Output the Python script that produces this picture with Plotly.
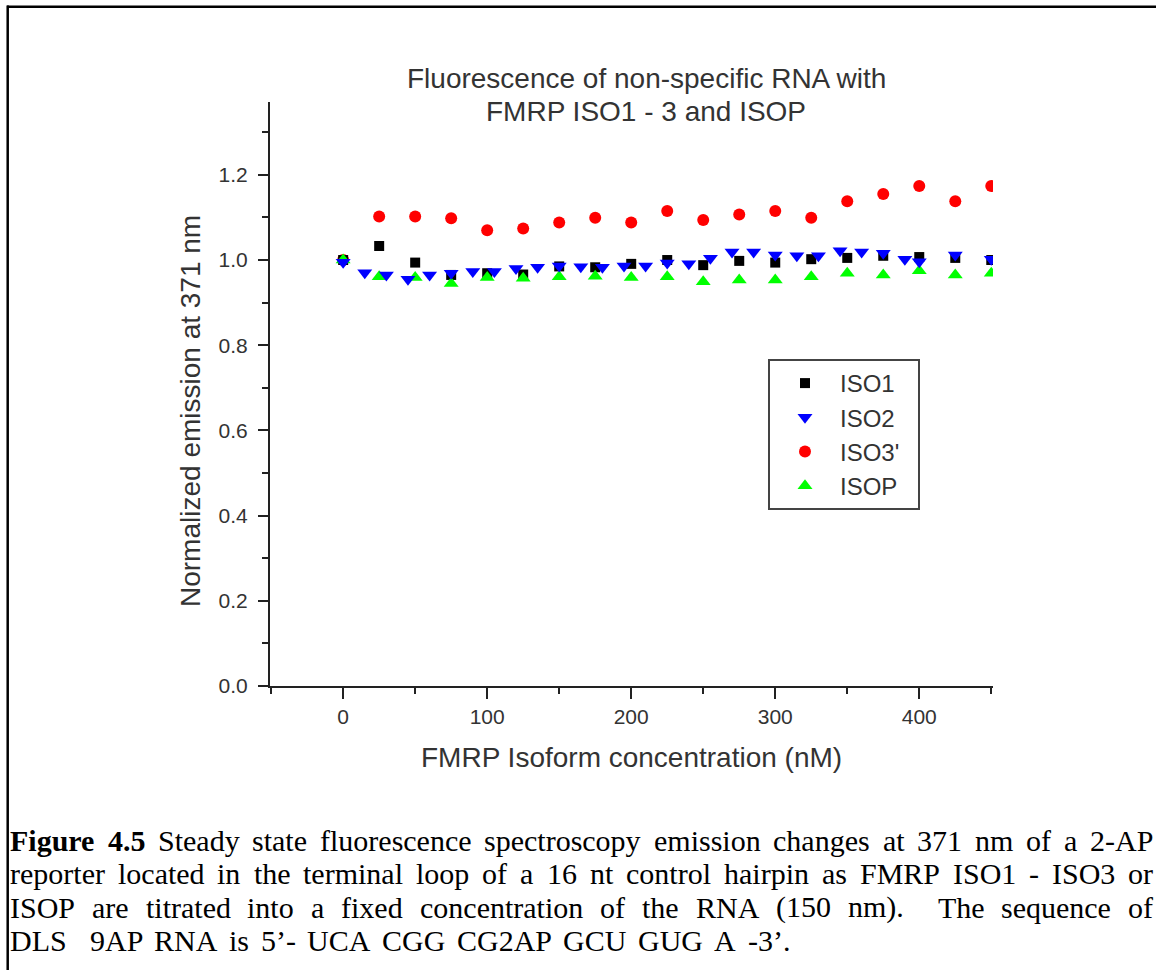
import plotly.graph_objects as go

# ---------------- data ----------------
conc = [0, 25, 50, 75, 100, 125, 150, 175, 200, 225, 250, 275, 300, 325, 350, 375, 400, 425, 450]
iso1 = [1.000, 1.033, 0.994, 0.965, 0.969, 0.966, 0.985, 0.983, 0.991, 1.000, 0.988, 0.998, 0.994,
        1.002, 1.005, 1.010, 1.007, 1.005, 1.000]
iso3 = [1.000, 1.102, 1.102, 1.098, 1.070, 1.074, 1.088, 1.099, 1.088, 1.115, 1.094, 1.107, 1.115,
        1.099, 1.138, 1.155, 1.174, 1.138, 1.174]
isop = [1.000, 0.961, 0.959, 0.945, 0.959, 0.957, 0.961, 0.962, 0.959, 0.961, 0.949, 0.953, 0.953,
        0.961, 0.969, 0.965, 0.975, 0.965, 0.969]
conc_iso2 = [0, 15, 30, 45, 60, 75, 90, 105, 120, 135, 150, 165, 180, 195, 210, 225, 240, 255, 270,
             285, 300, 315, 330, 345, 360, 375, 390, 400, 425, 450]
iso2 = [0.995, 0.970, 0.965, 0.955, 0.965, 0.969, 0.973, 0.973, 0.980, 0.983, 0.986, 0.984, 0.983,
        0.986, 0.986, 0.993, 0.991, 1.004, 1.019, 1.019, 1.012, 1.010, 1.010, 1.022, 1.019, 1.016,
        1.002, 0.996, 1.012, 1.002]

series_names = ["ISO1", "ISO2", "ISO3'", "ISOP"]
x_ticks = [0, 100, 200, 300, 400]
y_ticks = [0.0, 0.2, 0.4, 0.6, 0.8, 1.0, 1.2]

title_lines = ["Fluorescence of non-specific RNA with", "FMRP ISO1 - 3 and ISOP"]
x_title = "FMRP Isoform concentration (nM)"
y_title = "Normalized emission at 371 nm"
caption = [
    [("Figure", True), ("4.5", True), "Steady", "state", "fluorescence", "spectroscopy", "emission",
     "changes", "at", "371", "nm", "of", "a", "2-AP"],
    ["reporter", "located", "in", "the", "terminal", "loop", "of", "a", "16", "nt", "control", "hairpin",
     "as", "FMRP", "ISO1", "-", "ISO3", "or"],
    ["ISOP", "are", "titrated", "into", "a", "fixed", "concentration", "of", "the", "RNA", "(150",
     "nm).", "", "The", "sequence", "of"],
    ["DLS", "", "9AP", "RNA", "is", "5\u2019-", "UCA", "CGG", "CG2AP", "GCU", "GUG", "A", "-3\u2019."],
]

# ---------------- geometry ----------------
W, H = 1156, 970
L, R, T, B = 270, 993, 102, 686


def px(x):
    return (x - L) / (R - L)


def py(y):
    return (B - y) / (B - T)


SANS = "Liberation Sans, Arial, sans-serif"
SERIF = "Liberation Serif, Times New Roman, serif"
TXT = "#333333"
AX = "#222222"

styles = {
    "ISO1": dict(symbol="square", color="#000000", size=10, rank=1),
    "ISO2": dict(symbol="triangle-down", color="#0000FF", size=13, rank=2),
    "ISO3'": dict(symbol="circle", color="#FF0000", size=12, rank=3),
    "ISOP": dict(symbol="triangle-up", color="#00FF00", size=13, rank=4),
}
data = {"ISO1": (conc, iso1), "ISO2": (conc_iso2, iso2), "ISO3'": (conc, iso3), "ISOP": (conc, isop)}
legend_label = {"ISO1": "ISO1", "ISO2": "ISO2", "ISO3'": "ISO3'\u00a0\u00a0", "ISOP": "ISOP"}
draw_order = ["ISO3'", "ISO1", "ISOP", "ISO2"]  # red underneath, blue on top

fig = go.Figure()
for name in draw_order:
    xs, ys = data[name]
    st = styles[name]
    fig.add_trace(go.Scatter(
        x=xs, y=ys, mode="markers", name=legend_label[name], legendrank=st["rank"],
        marker=dict(symbol=st["symbol"], color=st["color"], size=st["size"], line=dict(width=0)),
    ))

axis_common = dict(
    showline=True, linecolor=AX, linewidth=2, ticks="outside", tickwidth=2, tickcolor=AX,
    showgrid=False, zeroline=False, automargin=False, mirror=False,
    tickfont=dict(family=SANS, size=21, color=TXT),
)
fig.update_xaxes(range=[-50.8, 451.2], tickvals=x_ticks, ticklen=11,
                 minor=dict(dtick=50, tick0=0, ticklen=6, tickwidth=2, tickcolor=AX, ticks="outside"),
                 **axis_common)
fig.update_yaxes(range=[0, 1.371], tickvals=y_ticks, tickformat=".1f", ticklen=10,
                 ticklabelstandoff=6,
                 minor=dict(dtick=0.1, tick0=0, ticklen=6, tickwidth=2, tickcolor=AX, ticks="outside"),
                 **axis_common)

annotations = []
for line, yc in zip(title_lines, [78, 112]):
    annotations.append(dict(text=line, x=px(646), y=py(yc), xref="paper", yref="paper",
                            xanchor="center", yanchor="middle", showarrow=False,
                            font=dict(family=SANS, size=28, color=TXT)))
annotations.append(dict(text=x_title, x=px(631), y=py(757), xref="paper", yref="paper",
                        xanchor="center", yanchor="middle", showarrow=False,
                        font=dict(family=SANS, size=28, color=TXT)))
annotations.append(dict(text=y_title, x=px(190), y=py(411), xref="paper", yref="paper",
                        xanchor="center", yanchor="middle", showarrow=False, textangle=-90,
                        font=dict(family=SANS, size=28, color=TXT)))

# caption, word-placed and justified using Times metrics
TIMES = {' ': 250, '(': 333, ')': 333, '-': 333, '.': 250, '\u2019': 333, "'": 180,
         'A': 722, 'B': 667, 'C': 667, 'D': 722, 'E': 611, 'F': 556, 'G': 722, 'H': 722, 'I': 333,
         'J': 389, 'K': 722, 'L': 611, 'M': 889, 'N': 722, 'O': 722, 'P': 556, 'Q': 722, 'R': 667,
         'S': 556, 'T': 611, 'U': 722, 'V': 722, 'W': 944, 'X': 722, 'Y': 722, 'Z': 611,
         'a': 444, 'b': 500, 'c': 444, 'd': 500, 'e': 444, 'f': 333, 'g': 500, 'h': 500, 'i': 278,
         'j': 278, 'k': 500, 'l': 278, 'm': 778, 'n': 500, 'o': 500, 'p': 500, 'q': 500, 'r': 333,
         's': 389, 't': 278, 'u': 500, 'v': 500, 'w': 722, 'x': 500, 'y': 500, 'z': 444}
TIMES_B = {'F': 611, 'i': 278, 'g': 500, 'u': 556, 'r': 444, 'e': 444, '.': 250, ' ': 250}
CAP_SIZE = 30
CAP_LEFT = 10
cap_right = [1153, 1153, 1153, 790]
cap_y = [840, 873.5, 907, 940.5]


def wwidth(word, bold):
    tab = TIMES_B if bold else TIMES
    return sum(tab.get(c, TIMES.get(c, 500)) for c in word) / 1000.0 * CAP_SIZE


for words, yc, right in zip(caption, cap_y, cap_right):
    items = [(w, False) if isinstance(w, str) else w for w in words]
    total = sum(wwidth(w, b) for w, b in items if w != "")
    gap = (right - CAP_LEFT - total) / (len(items) - 1)
    x = CAP_LEFT
    for w, b in items:
        if w != "":
            annotations.append(dict(text=f"<b>{w}</b>" if b else w, x=px(x), y=py(yc),
                                    xref="paper", yref="paper", xanchor="left", yanchor="middle",
                                    showarrow=False, borderpad=0, borderwidth=0,
                                    font=dict(family=SERIF, size=CAP_SIZE, color="#000000")))
            x += wwidth(w, b)
        x += gap

fig.update_layout(
    width=W, height=H, autosize=False,
    margin=dict(l=L, r=W - R, t=T, b=H - B, pad=0),
    paper_bgcolor="white", plot_bgcolor="white",
    showlegend=True,
    legend=dict(x=px(768), y=py(359), xanchor="left", yanchor="top",
                bgcolor="white", bordercolor="#444444", borderwidth=2,
                font=dict(family=SANS, size=24, color=TXT), itemwidth=60,
                traceorder="normal"),
    annotations=annotations,
    shapes=[
        dict(type="line", xref="paper", yref="paper", x0=px(7), x1=px(1160), y0=py(6.7), y1=py(6.7),
             line=dict(color="black", width=2.5)),
        dict(type="line", xref="paper", yref="paper", x0=px(7.7), x1=px(7.7), y0=py(5.5), y1=py(975),
             line=dict(color="black", width=2.5)),
    ],
)

fig.write_html("out.html")
